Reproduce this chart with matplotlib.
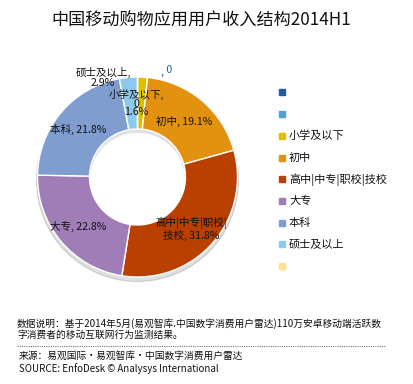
import numpy as np
import matplotlib
matplotlib.use("Agg")
import matplotlib.pyplot as plt
from matplotlib.patches import Rectangle, Circle

plt.rcParams['font.family'] = ['Noto Sans CJK SC', 'DejaVu Sans']

# data
series = ['', '', '小学及以下', '初中', '高中|中专|职校|技校', '大专', '本科', '硕士及以上', '']
values = [0, 0, 1.6, 19.1, 31.8, 22.8, 21.8, 2.9, 0]
colors = ['#1F5AA6', '#4BA3D6', '#DCC000', '#E2920F', '#B94000',
          '#A07DB7', '#7F9DCF', '#8DC8EE', '#FFE38A']
label_texts = [', 0', '', '小学及以下,\n0\n1.6%', '初中, 19.1%', '高中|中专|职校|\n技校, 31.8%',
               '大专, 22.8%', '本科, 21.8%', '硕士及以上,\n2.9%', '']
label_r = [1.08, 0, 0.74, 0.73, 0.75, 0.77, 0.76, 1.05, 0]
label_da = [14, 0, -4, 0, 2, 0, -2, -14, 0]   # angle nudges, degrees

W, H = 414, 384
fig = plt.figure(figsize=(W / 100, H / 100), dpi=100)

cx, cy, R = 137.5, 177, 100
ax = fig.add_axes([(cx - R) / W, 1 - (cy + R) / H, 2 * R / W, 2 * R / H])
ax.set_aspect('equal')
ax.axis('off')

# faint shadow
sh = Circle((0.0, -0.035), 1.01, color='#000000', alpha=0.12, zorder=0, clip_on=False)
ax.add_patch(sh)
ax.add_patch(Circle((0.0, -0.035), 0.47, color='white', zorder=0.5, clip_on=False))

wedges, _ = ax.pie(values, colors=colors, startangle=90, counterclock=False,
                   radius=1, wedgeprops=dict(width=0.52, edgecolor='white', linewidth=1))
for w in wedges:
    w.set_clip_on(False)

total = sum(values)
cum = 0
for v, txt, r, da in zip(values, label_texts, label_r, label_da):
    mid = (cum + v / 2) / total * 360
    cum += v
    if not txt:
        continue
    a = np.deg2rad(90 - mid - da)
    x, y = r * np.cos(a), r * np.sin(a)
    if txt == ', 0':
        ax.text(x, y, ',', ha='right', va='center', fontsize=7.6, color='#222222')
        ax.text(x, y + 0.02, ' 0', ha='left', va='center', fontsize=7.6, color='#1F5AA6')
        continue
    ax.text(x, y, txt, ha='center', va='center', fontsize=7.6, color='#111111',
            linespacing=0.85 if txt.count('\n') > 1 else 1.0)
ax.set_xlim(-1, 1)
ax.set_ylim(-1, 1)

fig.text(201 / W, 1 - 20 / H, '中国移动购物应用用户收入结构2014H1', ha='center', va='center',
         fontsize=12.3, color='#111111')

# legend
ys = [92.3, 114, 135.7, 157.7, 179.3, 201, 222.7, 244.3, 266]
for name, c, yy in zip(series, colors, ys):
    fig.patches.append(Rectangle((279 / W, 1 - (yy + 3) / H), 6 / W, 6 / H,
                                 transform=fig.transFigure, color=c))
    if name:
        fig.text(289 / W, 1 - yy / H, name, ha='left', va='center', fontsize=8.0,
                 color='#111111')

fig.text(17 / W, 1 - 329 / H,
         '数据说明：基于2014年5月(易观智库.中国数字消费用户雷达)110万安卓移动端活跃数\n'
         '字消费者的移动互联网行为监测结果。',
         ha='left', va='center', fontsize=7.0, color='#111111', linespacing=1.1)
fig.add_artist(plt.Line2D([17 / W, 385 / W], [1 - 346 / H, 1 - 346 / H],
                          color='#777777', linestyle=(0, (1, 1)), linewidth=0.8))
fig.text(19 / W, 1 - 356 / H, '来源：易观国际·易观智库·中国数字消费用户雷达',
         ha='left', va='center', fontsize=7.0, color='#111111')
fig.text(19 / W, 1 - 368.5 / H, 'SOURCE: EnfoDesk © Analysys International',
         ha='left', va='center', fontsize=7.0, color='#111111')

fig.savefig('out.png', dpi=100)
